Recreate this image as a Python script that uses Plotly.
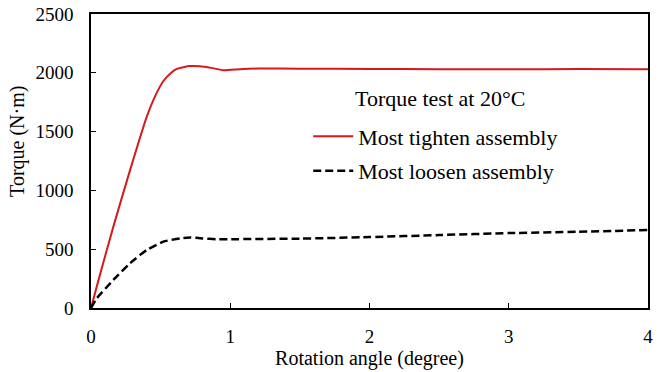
import plotly.graph_objects as go

# Data
tight_x = [0, 0.05, 0.16, 0.28, 0.40, 0.46, 0.52, 0.57, 0.62, 0.71, 0.83, 0.95, 1.07, 1.2, 1.5, 2.0, 2.5, 3.0, 3.5, 4.0]
tight_y = [0, 220, 690, 1170, 1625, 1800, 1930, 1995, 2035, 2057, 2050, 2022, 2031, 2036, 2035, 2033, 2030, 2030, 2032, 2031]

loose_x = [0, 0.04, 0.16, 0.28, 0.40, 0.52, 0.64, 0.71, 0.80, 0.90, 1.0, 1.5, 2.0, 2.5, 3.0, 3.5, 4.0]
loose_y = [0, 80, 238, 380, 493, 564, 592, 600, 592, 585, 585, 590, 603, 620, 637, 648, 663]

x_ticks = [0, 1, 2, 3, 4]
y_ticks = [0, 500, 1000, 1500, 2000, 2500]
legend_title = "Torque test at 20°C"
y_title = "Torque (N·m)"
x_title = "Rotation angle (degree)"

FONT = "Liberation Serif"

fig = go.Figure()
fig.add_trace(go.Scatter(x=tight_x, y=tight_y, mode="lines", name="Most tighten assembly", legendgroup="a",
                         line=dict(color="#d7191c", width=2, shape="spline", smoothing=0.5)))
fig.add_trace(go.Scatter(x=loose_x, y=loose_y, mode="lines", name="Most loosen assembly", legendgroup="b",
                         line=dict(color="black", width=2.5, dash="8px,4px", shape="spline", smoothing=0.5)))

fig.add_annotation(text=legend_title, xref="paper", yref="paper", x=0.627, y=0.714,
                   xanchor="center", yanchor="middle", showarrow=False,
                   font=dict(family=FONT, size=22, color="black"))
fig.add_annotation(text=y_title, xref="paper", yref="paper", x=-0.133, y=0.568,
                   xanchor="center", yanchor="middle", showarrow=False, textangle=-90,
                   font=dict(family=FONT, size=20, color="black"))

fig.update_layout(
    width=665, height=372,
    margin=dict(l=91, r=17, t=14, b=64, autoexpand=False),
    paper_bgcolor="white", plot_bgcolor="white",
    font=dict(family=FONT, size=19, color="black"),
    showlegend=True,
    legend=dict(x=0.39, y=0.655, xanchor="left", yanchor="top",
                bgcolor="rgba(0,0,0,0)", font=dict(size=22, family=FONT),
                tracegroupgap=3, itemwidth=40),
    xaxis=dict(range=[0, 4], tickvals=x_ticks, ticks="inside", ticklen=5, tickwidth=1,
               tickcolor="black", showline=True, linecolor="black", linewidth=1.5, mirror=True,
               showgrid=False, zeroline=False, ticklabelstandoff=10, automargin=False,
               tickfont=dict(family=FONT, size=19),
               title=dict(text=x_title, standoff=2, font=dict(family=FONT, size=20))),
    yaxis=dict(range=[0, 2500], tickvals=y_ticks, ticks="inside", ticklen=5, tickwidth=1,
               tickcolor="black", showline=True, linecolor="black", linewidth=1.5, mirror=True,
               showgrid=False, zeroline=False, ticklabelstandoff=12, automargin=False,
               tickfont=dict(family=FONT, size=19)),
)

fig.write_html("out.html", config={"displayModeBar": False},
               post_script="document.body.style.margin='0';document.body.style.overflow='hidden';")
